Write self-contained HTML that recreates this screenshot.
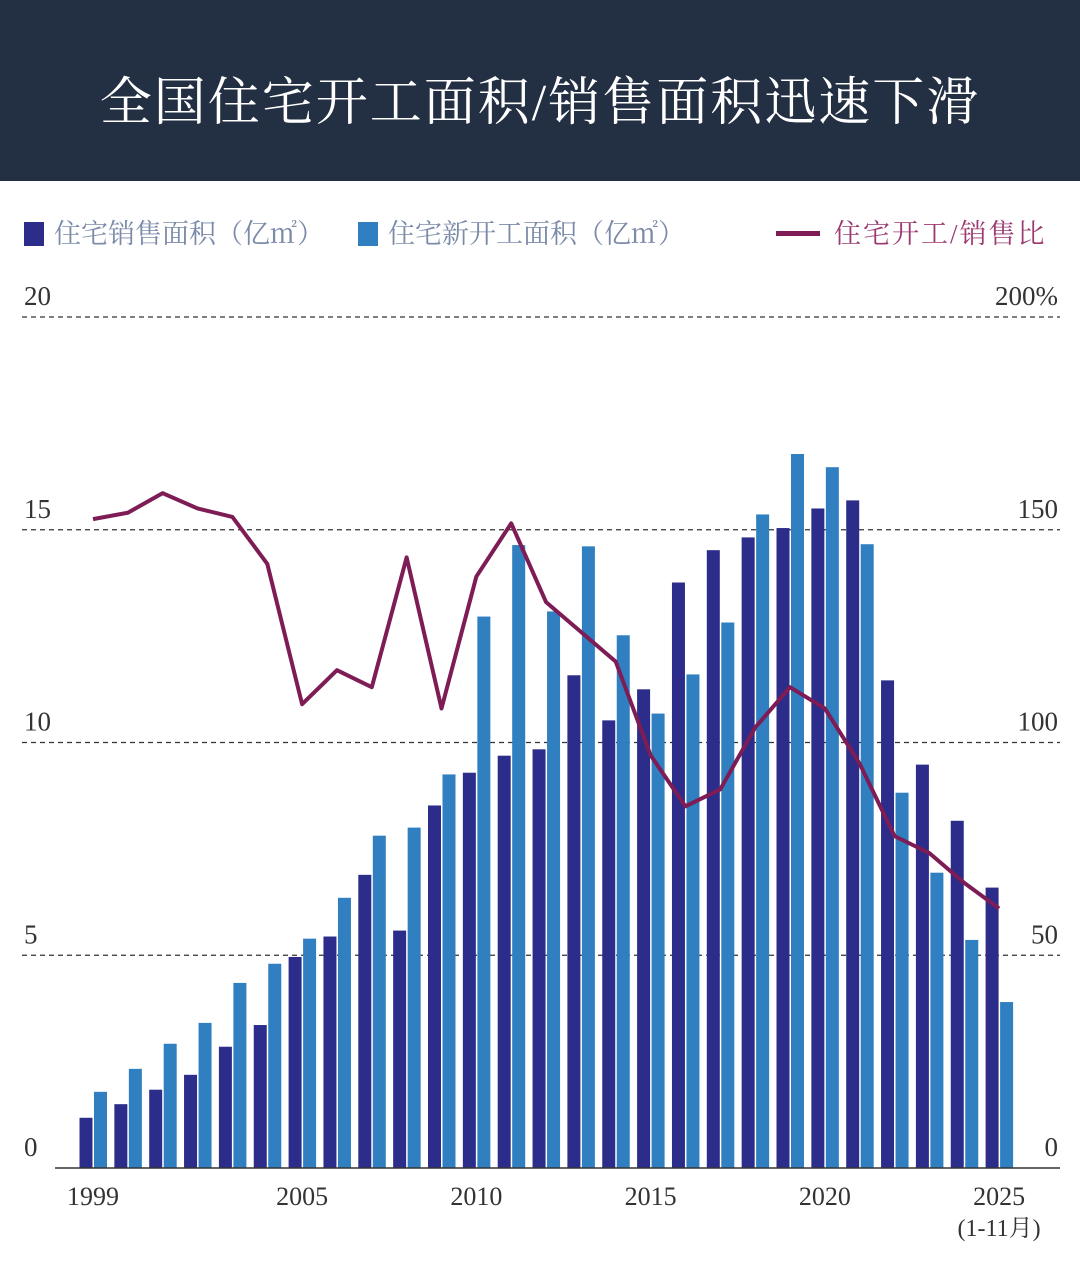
<!DOCTYPE html>
<html><head><meta charset="utf-8">
<style>
html,body{margin:0;padding:0;background:#fff;}
body{width:1080px;height:1266px;position:relative;overflow:hidden;font-family:"Liberation Serif","Noto Serif CJK SC",serif;}
#hdr{position:absolute;left:0;top:0;width:1080px;height:181px;background:#232f42;}
#title{position:absolute;left:0;top:60px;width:1080px;text-align:center;color:#fff;font-size:52px;letter-spacing:2px;font-family:"Liberation Serif","Noto Serif CJK SC",serif;}
.leg{position:absolute;top:212px;font-size:27px;color:#7a8aa8;font-family:"Liberation Serif","Noto Serif CJK SC",serif;white-space:nowrap;}
</style></head><body>
<div id="hdr"><div id="title">全国住宅开工面积/销售面积迅速下滑</div></div>
<div class="leg" style="left:24px"><span style="display:inline-block;width:20px;height:24px;background:#2c2c8a;vertical-align:-3px;margin-right:10px"></span>住宅销售面积（亿㎡）</div>
<div class="leg" style="left:358px"><span style="display:inline-block;width:20px;height:24px;background:#2f7fc1;vertical-align:-3px;margin-right:10px"></span>住宅新开工面积（亿㎡）</div>
<div class="leg" style="left:776px;color:#9a3a70;letter-spacing:2px"><span style="display:inline-block;width:44px;height:5px;background:#7d1c55;vertical-align:7px;margin-right:14px"></span>住宅开工/销售比</div>
<svg id="chart" width="1080" height="1266" style="position:absolute;left:0;top:0"></svg>
<script>
const years=[1999,2000,2001,2002,2003,2004,2005,2006,2007,2008,2009,2010,2011,2012,2013,2014,2015,2016,2017,2018,2019,2020,2021,2022,2023,2024,2025];
const sales=[1.18,1.5,1.84,2.19,2.85,3.36,4.96,5.44,6.89,5.58,8.52,9.29,9.69,9.84,11.58,10.52,11.25,13.76,14.52,14.82,15.04,15.5,15.69,11.46,9.48,8.16,6.59];
const starts=[1.79,2.33,2.92,3.41,4.35,4.8,5.39,6.35,7.81,8.0,9.25,12.96,14.64,13.08,14.61,12.52,10.68,11.6,12.82,15.36,16.78,16.47,14.66,8.82,6.94,5.36,3.9];
const ratio=[152.5,154,158.6,155,153,142,109,117,113,143.5,108,139,151.5,133,126,119,97,85,89,103.5,113,108,95,78,74,67,61];
const leftTicks=[0,5,10,15,20];
const rightTicks=["0","50","100","150","200%"];
const xLabels=[1999,2005,2010,2015,2020,2025];
const NS="http://www.w3.org/2000/svg";
const svg=document.getElementById('chart');
const y0=1168, pxU=42.55;
function yL(v){return y0-v*pxU;}
function yR(p){return y0-p*pxU/10;}
function xC(yr){return 93+(yr-1999)*34.85;}
function mk(t,a){const e=document.createElementNS(NS,t);for(const k in a)e.setAttribute(k,a[k]);svg.appendChild(e);return e;}
leftTicks.forEach((v,i)=>{
  const y=yL(v);
  if(v>0){const g=mk('line',{x1:22,x2:1060,y1:y,y2:y,stroke:'#333','stroke-width':1.2,'stroke-dasharray':'5,4'});
  
  }
  const t=mk('text',{x:24,y:y-12,'font-size':27,fill:'#333','font-family':'Liberation Serif,serif'});t.textContent=v;
  
  
  const r=mk('text',{x:1058,y:y-12,'font-size':27,fill:'#333','text-anchor':'end','font-family':'Liberation Serif,serif'});r.textContent=rightTicks[i];
  
  
});
years.forEach((yr,i)=>{
  const c=xC(yr);
  const b1=mk('rect',{x:c-13.5,y:yL(sales[i]),width:13,height:sales[i]*pxU,fill:'#2c2c8a'});
  
  
  const b2=mk('rect',{x:c+1,y:yL(starts[i]),width:13,height:starts[i]*pxU,fill:'#2f7fc1'});
  
  
});
const base=mk('line',{x1:55,x2:1060,y1:y0,y2:y0,stroke:'#333','stroke-width':1.5});


const pts=years.map((yr,i)=>xC(yr)+','+yR(ratio[i])).join(' ');
const pl=mk('polyline',{points:pts,fill:'none',stroke:'#7d1c55','stroke-width':4,'stroke-linejoin':'round'});


xLabels.forEach(yr=>{
  const t=mk('text',{x:xC(yr),y:1205,'font-size':26,fill:'#333','text-anchor':'middle','font-family':'Liberation Serif,serif'});t.textContent=yr;
  
  
});
const n=mk('text',{x:xC(2025),y:1236,'font-size':24,fill:'#333','text-anchor':'middle','font-family':'Liberation Serif,Noto Serif CJK SC,serif'});n.textContent='(1-11月)';


</script>
</body></html>
